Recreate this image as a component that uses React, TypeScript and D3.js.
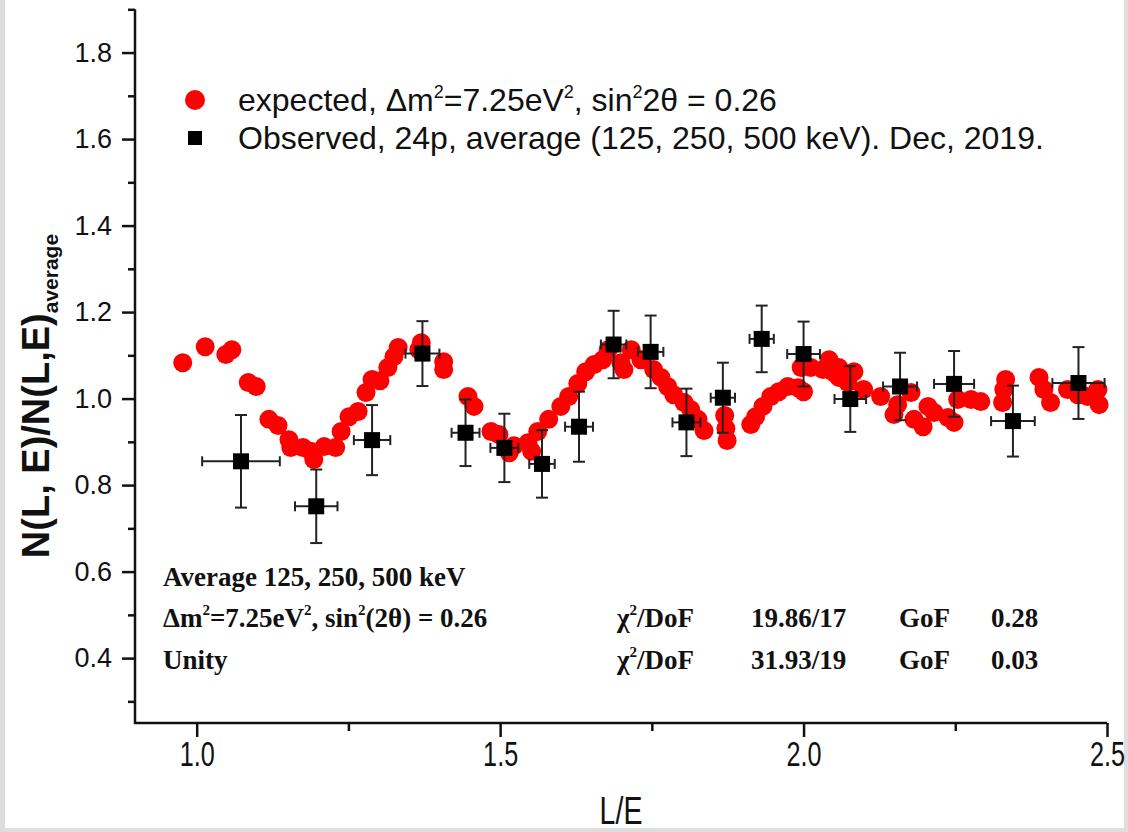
import React, { useEffect, useRef } from "react";
import * as d3 from "d3";

// expected curve (red dots)
const expX = [0.977, 1.014, 1.048, 1.058, 1.085, 1.098, 1.119, 1.134, 1.152, 1.155, 1.175, 1.188, 1.193, 1.21, 1.229, 1.238, 1.251, 1.266, 1.279, 1.289, 1.302, 1.315, 1.325, 1.332, 1.366, 1.37, 1.407, 1.407, 1.447, 1.457, 1.485, 1.498, 1.515, 1.523, 1.546, 1.552, 1.562, 1.58, 1.6, 1.613, 1.628, 1.641, 1.655, 1.669, 1.678, 1.699, 1.704, 1.716, 1.732, 1.753, 1.765, 1.776, 1.786, 1.803, 1.814, 1.826, 1.836, 1.87, 1.872, 1.874, 1.913, 1.921, 1.933, 1.946, 1.959, 1.974, 1.991, 2.0, 1.996, 2.012, 2.032, 2.042, 2.048, 2.058, 2.058, 2.073, 2.083, 2.099, 2.127, 2.149, 2.155, 2.177, 2.182, 2.197, 2.205, 2.215, 2.238, 2.248, 2.254, 2.276, 2.292, 2.328, 2.33, 2.333, 2.388, 2.396, 2.407, 2.435, 2.452, 2.468, 2.485, 2.487];
const expY = [1.083, 1.12, 1.102, 1.113, 1.037, 1.028, 0.952, 0.938, 0.905, 0.887, 0.887, 0.878, 0.859, 0.889, 0.887, 0.924, 0.958, 0.97, 1.014, 1.044, 1.041, 1.072, 1.097, 1.118, 1.113, 1.129, 1.085, 1.067, 1.005, 0.982, 0.924, 0.917, 0.875, 0.891, 0.898, 0.878, 0.924, 0.952, 0.982, 1.005, 1.035, 1.062, 1.079, 1.09, 1.113, 1.083, 1.067, 1.113, 1.09, 1.067, 1.049, 1.028, 1.009, 0.991, 0.975, 0.952, 0.926, 0.961, 0.931, 0.903, 0.94, 0.958, 0.982, 1.005, 1.016, 1.028, 1.025, 1.016, 1.072, 1.072, 1.067, 1.09, 1.062, 1.072, 1.049, 1.037, 1.062, 1.021, 1.005, 0.963, 0.986, 1.014, 0.952, 0.935, 0.982, 0.968, 0.956, 0.945, 0.998, 0.998, 0.993, 0.991, 1.021, 1.044, 1.049, 1.021, 0.991, 1.021, 1.009, 1.005, 1.021, 0.986];

// observed (black squares with errors)
const obsX = [1.073, 1.197, 1.289, 1.372, 1.443, 1.507, 1.569, 1.63, 1.687, 1.748, 1.807, 1.867, 1.931, 2.0, 2.077, 2.159, 2.248, 2.345, 2.453];
const obsY = [0.855, 0.751, 0.904, 1.104, 0.921, 0.886, 0.849, 0.935, 1.125, 1.108, 0.945, 1.002, 1.138, 1.103, 0.999, 1.028, 1.034, 0.948, 1.036];
const obsXErr = [0.064, 0.035, 0.03, 0.028, 0.023, 0.023, 0.021, 0.023, 0.021, 0.021, 0.023, 0.02, 0.02, 0.027, 0.026, 0.028, 0.033, 0.036, 0.043];
const obsYErr = [0.107, 0.085, 0.081, 0.075, 0.077, 0.079, 0.078, 0.081, 0.078, 0.084, 0.078, 0.081, 0.077, 0.075, 0.076, 0.078, 0.076, 0.082, 0.083];

const xMajor = [1.0, 1.5, 2.0, 2.5];
const xMinor = [1.25, 1.75, 2.25];
const yMajor = [0.4, 0.6, 0.8, 1.0, 1.2, 1.4, 1.6, 1.8];
const yMinor = [0.3, 0.5, 0.7, 0.9, 1.1, 1.3, 1.5, 1.7, 1.9];

const W = 1128, H = 832;
const x = d3.scaleLinear().domain([0.9, 2.5]).range([136, 1107]);
const y = d3.scaleLinear().domain([0.25, 1.9]).range([723, 9.3]);

const sans = "'Liberation Sans', Arial, sans-serif";
const serif = "'Liberation Serif', 'Times New Roman', serif";

export default function App() {
  const axRef = useRef<SVGGElement>(null);

  useEffect(() => {
    const g = d3.select(axRef.current);
    g.selectAll("*").remove();

    // y axis
    const ya = g.append("g").attr("transform", "translate(135,0)");
    ya.call(d3.axisLeft(y).tickValues(yMajor).tickSize(13).tickSizeOuter(0).tickPadding(10).tickFormat(d3.format(".1f")));
    ya.append("g").call(d3.axisLeft(y).tickValues(yMinor).tickSize(7).tickFormat(() => ""))
      .select(".domain").remove();
    ya.selectAll("text").attr("font-size", 27).attr("font-family", sans).attr("fill", "#111");

    // x axis
    const xa = g.append("g").attr("transform", "translate(0,723)");
    xa.call(d3.axisBottom(x).tickValues(xMajor).tickSize(14).tickSizeOuter(0).tickPadding(4).tickFormat(d3.format(".1f")));
    xa.append("g").call(d3.axisBottom(x).tickValues(xMinor).tickSize(8).tickFormat(() => ""))
      .select(".domain").remove();
    xa.selectAll("text").attr("font-size", 35).attr("font-family", sans).attr("fill", "#111")
      .attr("transform", "scale(0.72,1)");

    g.selectAll(".domain").attr("stroke-width", 2.5).attr("stroke", "#111");
    g.selectAll(".tick line").attr("stroke-width", 2.5).attr("stroke", "#111");
    // extend axis lines to meet at the corner
    xa.select(".domain").attr("d", `M134,0H${x(2.5)}`);
    ya.select(".domain").attr("d", `M0,${y(1.9)}V${y(0.25) + 1}`);
  }, []);

  const cap = 6;
  const hcap = 5;

  return (
    <div style={{ position: "absolute", left: 0, top: 0 }}>
      <svg width={W} height={H} style={{ display: "block" }}>
        <rect width={W} height={H} fill="#dedede" />
        <rect x={5} y={0} width={1119} height={828} fill="#fff" />

        {/* expected */}
        <g fill="#ff0000">
          {expX.map((v, i) => (
            <circle key={i} cx={x(v)} cy={y(expY[i])} r={9.5} />
          ))}
        </g>

        {/* observed with error bars */}
        <g stroke="#222" strokeWidth={2}>
          {obsX.map((v, i) => {
            const cx = x(v), cy = y(obsY[i]);
            const y0 = y(obsY[i] - obsYErr[i]), y1 = y(obsY[i] + obsYErr[i]);
            const x0 = x(v - obsXErr[i]), x1 = x(v + obsXErr[i]);
            return (
              <g key={i}>
                <line x1={cx} x2={cx} y1={y0} y2={y1} />
                <line x1={cx - cap} x2={cx + cap} y1={y0} y2={y0} />
                <line x1={cx - cap} x2={cx + cap} y1={y1} y2={y1} />
                <line x1={x0} x2={x1} y1={cy} y2={cy} />
                <line x1={x0} x2={x0} y1={cy - hcap} y2={cy + hcap} />
                <line x1={x1} x2={x1} y1={cy - hcap} y2={cy + hcap} />
              </g>
            );
          })}
        </g>
        <g fill="#000">
          {obsX.map((v, i) => (
            <rect key={i} x={x(v) - 8} y={y(obsY[i]) - 8} width={16} height={16} />
          ))}
        </g>

        <g ref={axRef} />

        {/* y label */}
        <text transform="translate(49,396) rotate(-90)" textAnchor="middle" fontFamily={sans} fontWeight="bold" fontSize={38} fill="#111">
          N(L, E)/N(L,E)<tspan fontSize={21} dy={9}>average</tspan>
        </text>
        {/* x label */}
        <text transform="translate(621,824) scale(0.75,1)" textAnchor="middle" fontFamily={sans} fontSize={38} fill="#111">L/E</text>

        {/* legend */}
        <circle cx={195} cy={100} r={10} fill="#ff0000" />
        <rect x={188} y={131} width={14} height={14} fill="#000" />
        <g fontFamily={sans} fontSize={32} fill="#111">
          <text x={238} y={111}>
            expected, Δm<tspan fontSize={18} dy={-13}>2</tspan><tspan dy={13}>=7.25eV</tspan><tspan fontSize={18} dy={-13}>2</tspan><tspan dy={13}>, sin</tspan><tspan fontSize={18} dy={-13}>2</tspan><tspan dy={13}>2θ = 0.26</tspan>
          </text>
          <text x={238} y={149}>Observed, 24p, average (125, 250, 500 keV). Dec, 2019.</text>
        </g>

        {/* annotations */}
        <g fontFamily={serif} fontWeight="bold" fontSize={27} fill="#111">
          <text x={163} y={586}>Average 125, 250, 500 keV</text>
          <text x={163} y={627}>
            Δm<tspan fontSize={15} dy={-12}>2</tspan><tspan dy={12}>=7.25eV</tspan><tspan fontSize={15} dy={-12}>2</tspan><tspan dy={12}>, sin</tspan><tspan fontSize={15} dy={-12}>2</tspan><tspan dy={12}>(2θ) = 0.26</tspan>
          </text>
          <text x={163} y={669}>Unity</text>
          <text x={617} y={627}>χ<tspan fontSize={15} dy={-12}>2</tspan><tspan dy={12}>/DoF</tspan></text>
          <text x={751} y={627}>19.86/17</text>
          <text x={899} y={627}>GoF</text>
          <text x={991} y={627}>0.28</text>
          <text x={617} y={669}>χ<tspan fontSize={15} dy={-12}>2</tspan><tspan dy={12}>/DoF</tspan></text>
          <text x={751} y={669}>31.93/19</text>
          <text x={899} y={669}>GoF</text>
          <text x={991} y={669}>0.03</text>
        </g>
      </svg>
    </div>
  );
}
